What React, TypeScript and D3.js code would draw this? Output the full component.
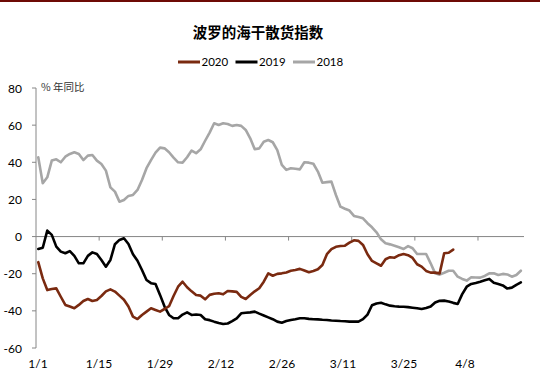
import React from 'react';
import * as d3 from 'd3';

const title = '波罗的海干散货指数';
const unitLabel = '% 年同比';
const seriesNames = ['2020', '2019', '2018'];
const seriesColors = ['#7a2a10', '#000000', '#a6a6a6'];
const xTickLabels = ['1/1', '1/15', '1/29', '2/12', '2/26', '3/11', '3/25', '4/8'];
const yTicks = [80, 60, 40, 20, 0, -20, -40, -60];

// values by day offset from Jan 1
const values2020 = [
  -13.8, -22.5, -28.8, -28.2, -27.9, -32.4, -36.8, -37.7, -38.6, -36.8,
  -34.7, -33.6, -34.7, -34.1, -32, -29.5, -28.4, -29.6, -31.8, -34,
  -37.7, -43.1, -44.4, -42.2, -40.4, -38.6, -39.5, -40.4, -39, -37.5,
  -32, -27, -24.3, -27.3, -29.5, -31.5, -31.8, -33.8, -31.4, -30.8,
  -30.5, -31.1, -29.3, -29.5, -29.8, -32.5, -33.6, -31.5, -29.5, -27.8,
  -24.3, -19.8, -21.1, -20.1, -19.8, -19.3, -18.4, -18, -17.4, -18.3,
  -19.2, -18.5, -17.6, -15.3, -9.5, -6.8, -5.5, -5.1, -4.9, -3.3,
  -2, -2.3, -4.5, -9.5, -13.1, -14.4, -15.7, -12.2, -11.1, -11.4,
  -10, -9.4, -10, -11.5, -14.9, -16.2, -18.5, -19.4, -19.4, -19.8,
  -9, -8.7, -7,
];

const values2019 = [
  -6.7, -6, 3.2, 0.9, -5.4, -8.1, -9, -7.8, -10.4, -14.4,
  -14.4, -10.4, -8.5, -9.4, -12.6, -16.2, -12.6, -4.1, -1.8, -0.9,
  -4, -9.5, -13, -18, -23.4, -25.1, -25.5, -31.4, -37.7, -42.2,
  -44, -44, -42, -40.8, -42.2, -42, -42.2, -44.5, -45, -45.8,
  -46.5, -47.1, -46.8, -45.5, -44, -41.3, -41, -40.8, -40.4, -41.5,
  -42.5, -43.5, -44.5, -45.8, -46.4, -45.5, -44.9, -44.5, -44, -44,
  -44.3, -44.5, -44.6, -44.8, -44.9, -45.2, -45.3, -45.5, -45.6, -45.8,
  -45.8, -45.8, -44.5, -42, -37, -36, -35.6, -36.5, -37.2, -37.5,
  -37.7, -37.8, -38, -38.3, -38.6, -39, -38.5, -37.7, -35.5, -34.6,
  -34.5, -35, -35.7, -36.3, -31, -27, -25.5, -25, -24.3, -23.5,
  -22.8, -24.8, -25.5, -26.3, -28, -27.5, -26, -24.7,
];

const values2018 = [
  42.7, 28.7, 31.9, 40.9, 41.6, 40, 43, 44.5, 45.4, 44.5,
  41.2, 43.6, 43.9, 40.9, 39.1, 35.5, 26.5, 24.2, 18.8, 19.7,
  21.9, 22.4, 25.1, 30.5, 36.8, 41.2, 45.2, 47.9, 47.5, 45.4,
  42.5, 40, 39.8, 42.7, 46.3, 44.9, 47, 51.6, 56, 61,
  60.1, 61, 60.6, 59.6, 60.1, 59.6, 57.4, 52.9, 47, 47.5,
  51.1, 52, 50.8, 46.6, 38.6, 35.9, 36.8, 36.5, 36.2, 40,
  39.8, 39.2, 35, 29, 29.3, 29.6, 22.4, 16.1, 15, 14,
  11.1, 10.5, 9.8, 7.2, 5, 2.3, -1.5, -3.6, -4.2, -4.9,
  -5.8, -6.7, -5.1, -6.3, -9.4, -9.4, -9.4, -14.4, -19.8, -20.5,
  -19.5, -18.4, -18.4, -21.6, -22.8, -23.7, -21.9, -22, -22.1, -21.2,
  -19.8, -19.8, -20.7, -20.1, -20.4, -21.6, -20.7, -18.4,
];

const allSeries = [values2020, values2019, values2018];

const W = 540;
const H = 377;

export default function App() {
  const x = d3.scaleLinear().domain([-0.5, 107.7]).range([36, 524]);
  const y = d3.scaleLinear().domain([-60, 80]).range([348, 88]);
  const labelX = d3.scalePoint<string>().domain(xTickLabels).range([38, 465]);
  const tickDays = xTickLabels.slice(1).map((_, i) => (i + 1) * 14 - 0.5);

  const line = d3
    .line<number>()
    .x((_, i) => x(i))
    .y((d) => y(d))
    .curve(d3.curveLinear);

  const axisColor = '#868686';
  const numFont = 'Lato, "Liberation Sans", sans-serif';
  const cjkFont = '"Noto Sans CJK SC", sans-serif';

  // draw order: 2018 below, 2019, 2020 on top
  const drawOrder = [2, 1, 0];

  return (
    <svg
      width={W}
      height={H}
      style={{ position: 'absolute', left: 0, top: 0, background: '#fff' }}
    >
      <rect x={0} y={0} width={W} height={2} fill="#6e0a05" />
      <text
        x={258}
        y={38}
        textAnchor="middle"
        fontFamily={cjkFont}
        fontWeight={700}
        fontSize={14.5}
        fill="#000"
      >
        {title}
      </text>

      {seriesNames.map((name, i) => {
        const x0 = 178 + i * 57.5;
        return (
          <g key={name}>
            <line x1={x0} x2={x0 + 22} y1={62} y2={62} stroke={seriesColors[i]} strokeWidth={3} />
            <text x={x0 + 23.5} y={66} fontFamily={numFont} fontSize={11.5} fill="#000">
              {name}
            </text>
          </g>
        );
      })}

      <text x={41} y={91} fontFamily={cjkFont} fontSize={10.5} fill="#333">
        {unitLabel}
      </text>

      {/* y axis */}
      <line x1={36} x2={36} y1={y(80)} y2={y(-60)} stroke={axisColor} strokeWidth={1} />
      {yTicks.map((t) => (
        <g key={t}>
          <line x1={32} x2={36} y1={y(t)} y2={y(t)} stroke={axisColor} strokeWidth={1} />
          <text
            x={22}
            y={y(t) + 4.5}
            textAnchor="end"
            fontFamily={numFont}
            fontSize={12}
            fill="#000"
          >
            {t}
          </text>
        </g>
      ))}

      {/* zero line with ticks */}
      <line x1={36} x2={524} y1={y(0)} y2={y(0)} stroke={axisColor} strokeWidth={1} />
      {tickDays.map((d) => (
        <line key={d} x1={x(d)} x2={x(d)} y1={y(0)} y2={y(0) + 4} stroke={axisColor} strokeWidth={1} />
      ))}

      {xTickLabels.map((l) => (
        <text
          key={l}
          x={labelX(l)}
          y={368}
          textAnchor="middle"
          fontFamily={numFont}
          fontSize={12}
          fill="#000"
        >
          {l}
        </text>
      ))}

      {drawOrder.map((i) => (
        <path
          key={seriesNames[i]}
          d={line(allSeries[i]) || ''}
          fill="none"
          stroke={seriesColors[i]}
          strokeWidth={2.6}
          strokeLinejoin="round"
          strokeLinecap="round"
        />
      ))}
    </svg>
  );
}
